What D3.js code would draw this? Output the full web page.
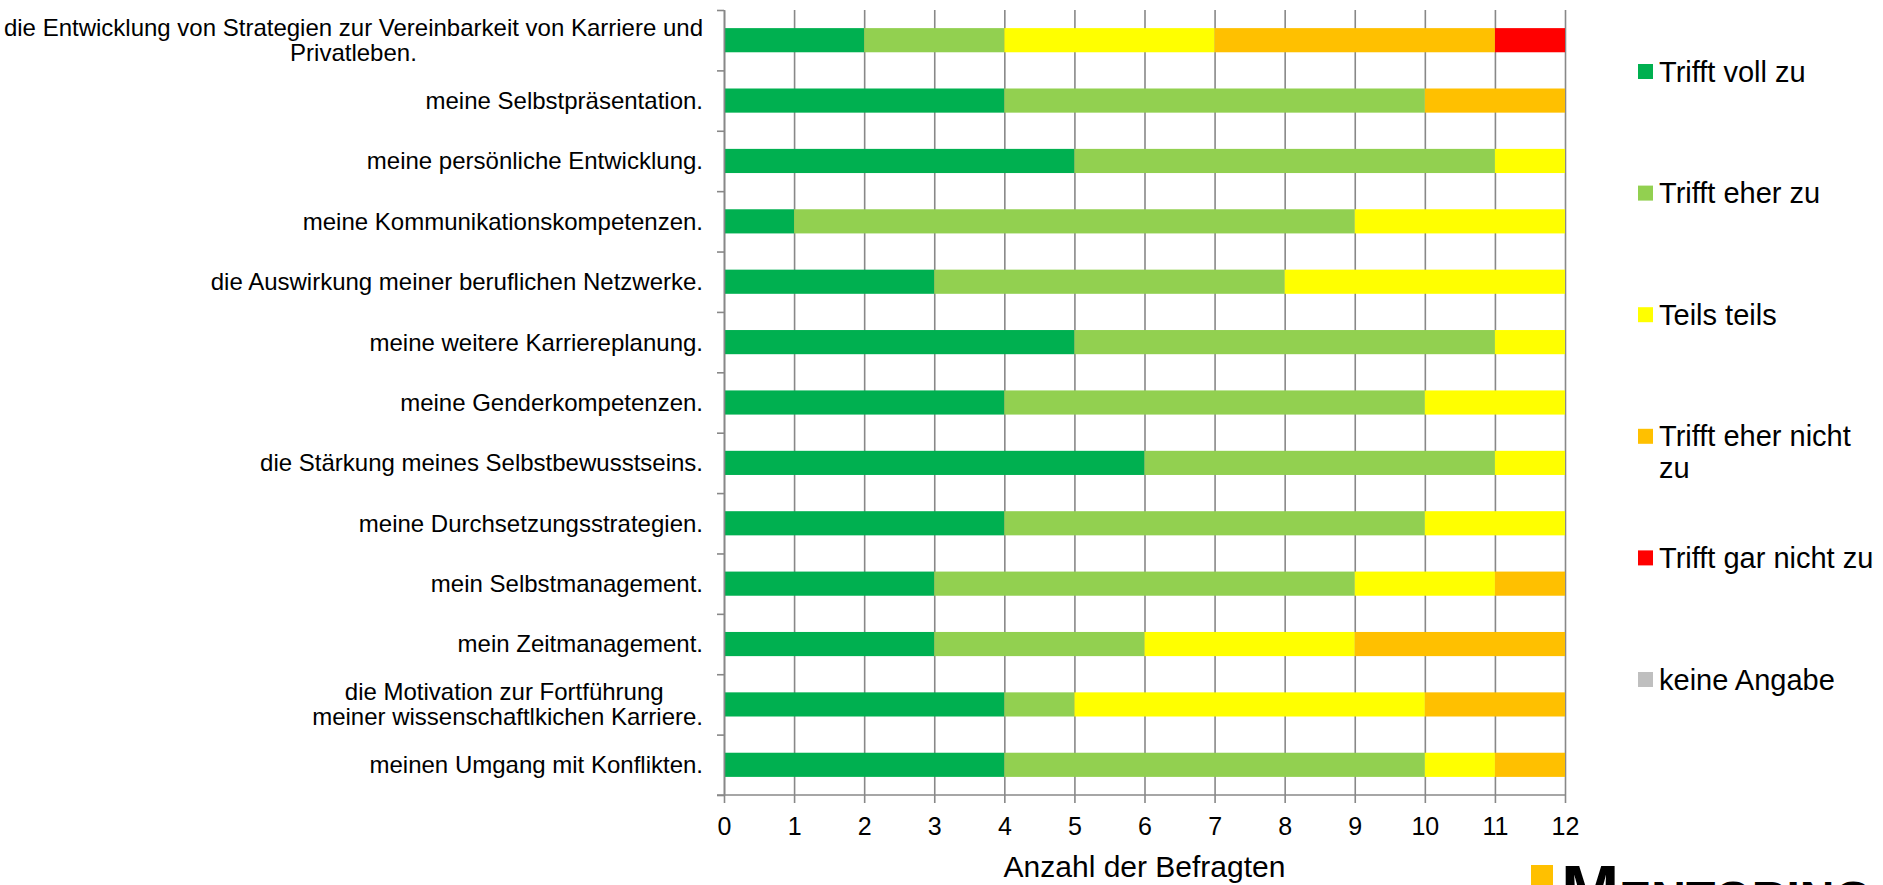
<!DOCTYPE html>
<html>
<head>
<meta charset="utf-8">
<script src="https://cdn.jsdelivr.net/npm/d3@7"></script>
<style>
  body { margin: 0; background: #fff; }
  text { font-family: "Liberation Sans", Arial, sans-serif; fill: #000; }
</style>
</head>
<body>
<svg width="1883" height="885"></svg>
<script>
const categories = [
  "die Entwicklung von Strategien zur Vereinbarkeit von Karriere und\nPrivatleben.",
  "meine Selbstpräsentation.",
  "meine persönliche Entwicklung.",
  "meine Kommunikationskompetenzen.",
  "die Auswirkung meiner beruflichen Netzwerke.",
  "meine weitere Karriereplanung.",
  "meine Genderkompetenzen.",
  "die Stärkung meines Selbstbewusstseins.",
  "meine Durchsetzungsstrategien.",
  "mein Selbstmanagement.",
  "mein Zeitmanagement.",
  "die Motivation zur Fortführung \nmeiner wissenschaftlkichen Karriere.",
  "meinen Umgang mit Konflikten."
];

const series = ["Trifft voll zu", "Trifft eher zu", "Teils teils", "Trifft eher nicht zu", "Trifft gar nicht zu", "keine Angabe"];
const legendLabels = ["Trifft voll zu", "Trifft eher zu", "Teils teils", "Trifft eher nicht\nzu", "Trifft gar nicht zu", "keine Angabe"];
const colors = ["#00b050", "#92d050", "#ffff00", "#ffc000", "#ff0000", "#bfbfbf"];

const vollZu      = [2, 4, 5, 1, 3, 5, 4, 6, 4, 3, 3, 4, 4];
const eherZu      = [2, 6, 6, 8, 5, 6, 6, 5, 6, 6, 3, 1, 6];
const teilsTeils  = [3, 0, 1, 3, 4, 1, 2, 1, 2, 2, 3, 5, 1];
const eherNicht   = [4, 2, 0, 0, 0, 0, 0, 0, 0, 1, 3, 2, 1];
const garNicht    = [1, 0, 0, 0, 0, 0, 0, 0, 0, 0, 0, 0, 0];
const keineAngabe = [0, 0, 0, 0, 0, 0, 0, 0, 0, 0, 0, 0, 0];

const xTicks = [0, 1, 2, 3, 4, 5, 6, 7, 8, 9, 10, 11, 12];

const values = [vollZu, eherZu, teilsTeils, eherNicht, garNicht, keineAngabe];
const table = categories.map((c, i) => {
  const row = { category: c };
  series.forEach((s, j) => row[s] = values[j][i]);
  return row;
});

const svg = d3.select("svg");
const plotLeft = 724, plotRight = 1565, plotTop = 10, plotBottom = 795;
const axisColor = "#888888";

const x = d3.scaleLinear().domain([0, 12]).range([plotLeft, plotRight]);
const y = d3.scaleBand().domain(categories).range([plotTop, plotBottom])
            .paddingInner(0.6).paddingOuter(0.3);
const yEdges = d3.scaleLinear().domain([0, categories.length]).range([plotTop, plotBottom]);

// vertical gridlines
svg.append("g")
   .attr("transform", `translate(0,${plotTop})`)
   .call(d3.axisBottom(x).tickValues(xTicks).tickSize(plotBottom - plotTop).tickFormat(""))
   .call(g => g.select(".domain").remove())
   .call(g => g.selectAll("line").attr("stroke", axisColor).attr("stroke-width", 1.6));

// stacked bars
const stacked = d3.stack().keys(series)(table);
svg.append("g")
   .selectAll("g")
   .data(stacked)
   .enter().append("g")
   .attr("fill", (d, i) => colors[i])
   .selectAll("rect")
   .data(d => d)
   .enter().append("rect")
   .attr("x", d => x(d[0]))
   .attr("y", d => y(d.data.category))
   .attr("width", d => x(d[1]) - x(d[0]))
   .attr("height", y.bandwidth());

// y axis line with ticks at category boundaries
svg.append("g")
   .attr("transform", `translate(${plotLeft},0)`)
   .call(d3.axisLeft(yEdges).tickValues(d3.range(categories.length + 1))
           .tickSize(7).tickSizeOuter(0).tickFormat(""))
   .call(g => g.select(".domain").attr("stroke", axisColor).attr("stroke-width", 1.6))
   .call(g => g.selectAll("line").attr("stroke", axisColor).attr("stroke-width", 1.6));

// x axis
const xAxis = svg.append("g")
   .attr("transform", `translate(0,${plotBottom})`)
   .call(d3.axisBottom(x).tickValues(xTicks).tickSize(8).tickSizeOuter(0).tickPadding(14))
   .call(g => g.select(".domain").remove())
   .call(g => g.selectAll("line").attr("stroke", axisColor).attr("stroke-width", 1.6))
   .call(g => g.selectAll("text").style("font-size", "25px").attr("fill", "#000")
               .style("font-family", '"Liberation Sans", Arial, sans-serif'));
xAxis.append("line")
   .attr("x1", plotLeft - 7).attr("x2", plotRight)
   .attr("stroke", axisColor).attr("stroke-width", 1.6);

svg.append("text")
   .attr("x", (plotLeft + plotRight) / 2)
   .attr("y", 877)
   .attr("text-anchor", "middle")
   .style("font-size", "30px")
   .text("Anzahl der Befragten");

// category labels, multi-line ones centred as a block
const labelRight = 703, labelSize = 24, lineH = 25;
categories.forEach(c => {
  const lines = c.split("\n");
  const t = svg.append("text").style("font-size", labelSize + "px");
  const cy = y(c) + y.bandwidth() / 2;
  const y0 = cy - (lines.length - 1) * lineH / 2 + labelSize * 0.35;
  const spans = lines.map((l, i) => t.append("tspan").attr("x", 0).attr("y", y0 + i * lineH).text(l));
  if (lines.length === 1) {
    t.attr("text-anchor", "end").selectAll("tspan").attr("x", labelRight);
  } else {
    const w = d3.max(spans, s => s.node().getComputedTextLength());
    t.attr("text-anchor", "middle").selectAll("tspan").attr("x", labelRight - w / 2);
  }
});

// legend
const legend = svg.append("g");
legendLabels.forEach((l, i) => {
  const cy = 71.5 + i * 121.6;
  legend.append("rect")
        .attr("x", 1638).attr("y", cy - 7.5)
        .attr("width", 15).attr("height", 15)
        .attr("fill", colors[i]);
  const t = legend.append("text").style("font-size", "29px");
  l.split("\n").forEach((line, k) => {
    t.append("tspan").attr("x", 1659).attr("y", cy + 10 + k * 32).text(line);
  });
});

// logo, cut by the bottom edge
svg.append("rect").attr("x", 1531).attr("y", 865).attr("width", 22).attr("height", 40).attr("fill", "#ffc000");
const logo = svg.append("text").attr("x", 1561).attr("y", 915).style("font-weight", "bold");
logo.append("tspan").style("font-size", "70px").text("M");
logo.append("tspan").style("font-size", "48px").text("ENTORING");
</script>
</body>
</html>
